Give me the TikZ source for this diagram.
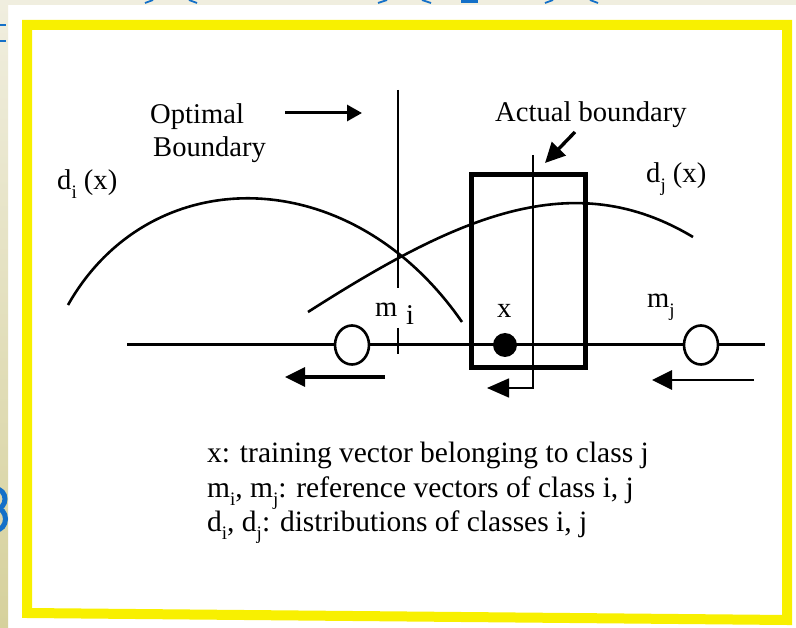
\documentclass[tikz,border=0pt]{standalone}
\usepackage{fontspec}
\setmainfont{Liberation Serif}
\usetikzlibrary{arrows.meta,shapes.geometric}
\definecolor{frameY}{HTML}{F8F000}
\definecolor{slideBlue}{HTML}{1470C8}
\definecolor{beigeTop}{HTML}{F0EEDF}
\definecolor{beigeBot}{HTML}{D6D19C}
\newcommand\sbs[1]{\raisebox{-0.28em}{\fontsize{19}{19}\selectfont #1}}
\tikzset{
  lbl/.style={inner sep=0pt, anchor=base west, font=\fontsize{28.6}{28.6}\selectfont},
  leg/.style={inner sep=0pt, anchor=base west, font=\fontsize{29.5}{29.5}\selectfont},
  axisline/.style={line width=3pt},
  curve/.style={line width=2.6pt},
  bigarrow/.style={line width=3.4pt, -{Triangle[length=20pt,width=19pt]}},
  toparrow/.style={line width=3pt, -{Triangle[length=15pt,width=16pt]}},
  thinline/.style={line width=1.6pt},
  bluemark/.style={slideBlue, line width=2.5pt},
  refvec/.style={draw, ellipse, line width=2.6pt, fill=white, inner sep=0pt, minimum width=34pt, minimum height=39pt},
}
\begin{document}
\begin{tikzpicture}[x=1pt,y=-1pt]
\useasboundingbox (0,0) rectangle (796,628);
% background
\fill[white] (0,0) rectangle (796,628);
\fill[beigeTop] (0,0) rectangle (796,5);
\shade[top color=beigeTop, bottom color=beigeBot] (0,0) rectangle (8,628);
% cut-off slide fragments
\draw[bluemark] (0,25) -- (6,25);
\draw[bluemark] (0,41) -- (6,41);
\draw[slideBlue, line width=5pt] (-4,509) arc[start angle=90, end angle=-90, x radius=9, y radius=10];
\draw[slideBlue, line width=5pt] (-4,530) arc[start angle=90, end angle=-90, x radius=9.5, y radius=11];
\draw[bluemark, line width=1.8pt] (153,0) -- (145,3);
\draw[bluemark, line width=1.8pt] (189,0) -- (197,3);
\draw[bluemark, line width=1.8pt] (387,0) -- (378,3);
\draw[bluemark, line width=1.8pt] (422,0) -- (431,3);
\fill[slideBlue] (461,0) rectangle (478,3);
\draw[bluemark, line width=1.8pt] (553,0) -- (545,3);
\draw[bluemark, line width=1.8pt] (590,0) -- (598,3);
% yellow frame
\draw[frameY, line width=10pt, line join=miter] (27,25) -- (787,25) -- (787,620) -- (27,613) -- cycle;

% ---- diagram ----
\coordinate (axL) at (127,345);
\coordinate (axR) at (765,345);
\coordinate (optTop) at (398,90);
\coordinate (optBot) at (398,288);
\coordinate (tickTop) at (398,328);
\coordinate (tickBot) at (398,354);
\coordinate (oaTail) at (285,113);
\coordinate (oaTip) at (362,113);
\coordinate (abTail) at (575,132);
\coordinate (abTip) at (545,163);
\coordinate (actTop) at (533,155);
\coordinate (actCorner) at (533,388);
\coordinate (actTip) at (487,388);
\coordinate (laTail) at (385,377);
\coordinate (laTip) at (285,377);
\coordinate (raTail) at (754,380);
\coordinate (raTip) at (652,380);
\coordinate (diL) at (68,305);
\coordinate (diR) at (462,322);
\coordinate (djL) at (308,312);
\coordinate (djR) at (693,237);

% axis
\draw[axisline] (axL) -- (axR);
% curves
\draw[curve] (diL) .. controls (150,160) and (350,160) .. (diR);
\draw[curve] (djL) .. controls (458,216) and (573,165) .. (djR);
% optimal boundary line
\draw[line width=2.4pt] (optTop) -- (optBot);
\draw[line width=2.4pt] (tickTop) -- (tickBot);
% rectangle
\node[draw, line width=5pt, minimum width=114pt, minimum height=193pt, inner sep=0pt] (win) at (528,271.5) {};
% actual boundary line with arrow
\draw[thinline, -{Triangle[length=22pt,width=19pt]}] (actTop) -- (actCorner) -- (actTip);
% reference vectors and training vector
\node[refvec] (mi) at (352,345) {};
\node[refvec] (mj) at (701,345) {};
\node[circle, fill=black, minimum size=24pt, inner sep=0pt] (xv) at (505,345) {};

% arrows
\draw[toparrow] (oaTail) -- (oaTip);
\draw[bigarrow] (abTail) -- (abTip);
\draw[bigarrow] (laTail) -- (laTip);
\draw[bigarrow, line width=2.8pt] (raTail) -- (raTip);

% labels
\node[lbl] (tOpt) at (150,124) {Optimal};
\node[lbl] (tBnd) at (153,157) {Boundary};
\node[lbl] (tAct) at (495,122) {Actual boundary};
\node[lbl] (tdi) at (57,190) {d\sbs{i} (x)};
\node[lbl] (tdj) at (646,183) {d\sbs{j} (x)};
\node[lbl] (tm1) at (375,317) {m};
\node[lbl] (ti1) at (406,325) {i};
\node[lbl] (tmj) at (647,308) {m\sbs{j}};
\node[lbl] (tx) at (497,318) {x};

% legend
\node[leg] (l1) at (207,463) {x: training vector belonging to class j};
\node[leg] (l2) at (207,497) {m\sbs{i}, m\sbs{j}: reference vectors of class i, j};
\node[leg] (l3) at (207,531) {d\sbs{i}, d\sbs{j}: distributions of classes i, j};
\end{tikzpicture}
\end{document}
